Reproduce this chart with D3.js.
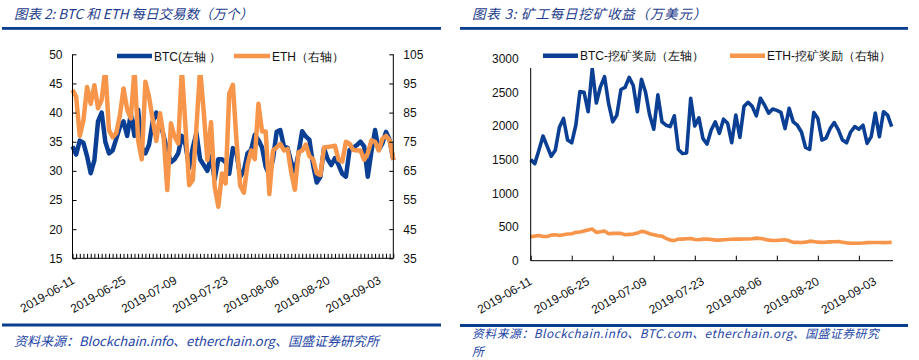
<!DOCTYPE html>
<html><head><meta charset="utf-8">
<script src="https://cdn.jsdelivr.net/npm/d3@7"></script>
<style>body{margin:0;background:#fff}svg{display:block}</style>
</head><body><svg id="c" width="919" height="360"></svg>
<script>
// ---------- DATA ----------
const startDay = "2019-06-11", endDay = "2019-09-07";
const labelDates = ["2019-06-11","2019-06-25","2019-07-09","2019-07-23","2019-08-06","2019-08-20","2019-09-03"];
const yTicksTxL = [15,20,25,30,35,40,45,50];
const yTicksTxR = [35,45,55,65,75,85,95,105];
const yTicksReward = [0,500,1000,1500,2000,2500,3000];

// BTC daily transactions (万个, left axis)
const btcTx = [34.2,32.8,35.2,34.8,32.5,29.6,31.8,38.5,40.0,35.0,
 33.0,33.5,35.5,37.5,38.5,36.0,39.8,36.0,40.5,34.0,
 33.0,34.5,38.5,40.0,38.5,36.0,33.5,31.5,32.0,33.0,
 36.0,34.5,30.5,34.0,36.5,32.0,31.0,30.0,32.5,28.5,
 32.0,32.0,31.5,29.5,33.9,33.0,29.0,30.0,33.0,33.6,
 36.2,35.3,34.0,30.7,29.3,32.0,36.7,37.0,34.2,33.9,
 31.5,29.9,33.0,36.8,35.9,35.3,31.0,28.0,29.0,33.9,
 32.0,31.0,32.2,31.0,29.5,29.0,33.6,34.0,34.4,35.0,
 34.2,29.0,33.3,37.0,33.6,34.7,36.7,35.3,31.9];
// ETH daily transactions (万个, right axis)
const ethTx = [92.8,90.4,77,82.4,93.8,88,94.4,86.5,89.4,100,
 79,76.5,78,84,93.3,86,83,100,75.6,69,
 95.6,90.4,82.6,75.3,84.8,76.8,58.4,81.3,76.8,74.4,
 100,80.1,60.1,61.9,80,100,85.3,68.7,81.7,59.6,
 52.7,64.1,60.7,91.6,94.5,75,60,57.5,67,72,
 69,88,78.5,78.5,57,72,73,74.3,72,72.5,
 64.5,58.5,71.4,72,74,70,69,64.2,63.6,73,
 73.2,73.4,73.6,68.8,68.2,75,74.3,72.2,72,72,
 68.8,71,75.5,75,72,76,77,75.5,68.8];
// BTC mining reward (万美元)
const btcReward = [1500,1440,1640,1850,1700,1550,1640,1980,2110,1790,
 1750,2010,2510,2500,2210,2850,2340,2580,2730,2330,
 2060,2160,2540,2570,2720,2600,2210,2690,2500,2160,
 1950,2460,2060,2010,1990,2150,1650,1590,1600,2410,
 2000,2120,1810,1730,1940,2060,1890,2100,2040,1750,
 2160,1830,2290,2350,2290,2150,2410,2310,2190,2250,
 2230,2200,1960,2260,2060,2010,1910,1680,1650,2200,
 2110,1790,1820,1960,2050,1940,1790,1750,1910,1990,
 1950,2010,1740,1840,2190,1840,2210,2160,1990];
// ETH mining reward (万美元)
const ethReward = [355,365,375,360,360,380,385,375,385,395,
 400,420,425,440,455,470,420,430,440,400,
 405,405,405,385,390,395,410,435,425,400,
 385,370,365,330,305,300,320,320,325,330,
 315,310,320,320,315,305,305,310,315,318,
 320,320,322,322,325,335,330,320,305,300,
 300,305,310,295,272,272,270,275,290,285,
 275,272,275,280,282,285,275,265,258,258,
 260,262,268,270,270,270,268,270,272];

// ---------- STYLE ----------
const BLUE = "#0b3f94", ORANGE = "#f7964a", BAR = "#0a3f8f";
const TFONT = "'Noto Sans CJK SC', 'DejaVu Sans', sans-serif";
const NFONT = "'Liberation Sans', Arial, sans-serif";

const parse = d3.timeParse("%Y-%m-%d");
const dates = d3.timeDay.range(parse(startDay), d3.timeDay.offset(parse(endDay), 1));
const svg = d3.select("#c");

// headers / footers
function header(x0, w, title, barY, ls) {
  svg.append("text").attr("x", x0 + 12).attr("y", 19).attr("font-family", TFONT)
    .attr("font-size", 13.5).attr("letter-spacing", ls).attr("font-style", "italic").attr("fill", "#1d3c8c").text(title);
  svg.append("rect").attr("x", x0).attr("y", 27).attr("width", w).attr("height", 2.8).attr("fill", BAR);
  svg.append("rect").attr("x", x0).attr("y", barY).attr("width", w).attr("height", 3).attr("fill", BAR);
}
header(2, 439, "图表 2:  BTC 和 ETH 每日交易数（万个）", 323.5, 0);
header(460, 448, "图表 3:  矿工每日挖矿收益（万美元）", 324, 0.8);

svg.append("text").attr("x", 14).attr("y", 346).attr("font-family", TFONT).attr("font-size", 13)
  .attr("font-style", "italic").attr("fill", "#2445a6").text("资料来源：Blockchain.info、etherchain.org、国盛证券研究所");
svg.append("text").attr("x", 472).attr("y", 338).attr("font-family", TFONT).attr("font-size", 11.8)
  .attr("letter-spacing", 0.55)
  .attr("font-style", "italic").attr("fill", "#2445a6").text("资料来源：Blockchain.info、BTC.com、etherchain.org、国盛证券研究");
svg.append("text").attr("x", 472).attr("y", 355.5).attr("font-family", TFONT).attr("font-size", 11.8)
  .attr("font-style", "italic").attr("fill", "#2445a6").text("所");

function dateLabels(g, x, dx, y0) {
  labelDates.forEach(s => {
    const px = x(parse(s));
    g.append("text").attr("transform", `translate(${px + dx},${y0}) rotate(-30)`)
      .attr("text-anchor", "end").attr("dy", "0.35em").attr("font-family", NFONT)
      .attr("font-size", 12).attr("fill", "#111").text(s);
  });
}

// ---------- LEFT CHART ----------
{
  const L = 72.5, R = 393.3, T = 54.3, B = 258.3;
  const x = d3.scaleTime().domain([dates[0], dates[dates.length - 1]]).range([L, R]);
  const yl = d3.scaleLinear().domain([15, 50]).range([B, T]);
  const yr = d3.scaleLinear().domain([35, 105]).range([B, T]);
  const g = svg.append("g");

  const line = (ys) => d3.line().x((d, i) => x(dates[i])).y(d => ys(d));
  g.append("path").datum(btcTx).attr("d", line(yl)).attr("fill", "none")
    .attr("stroke", BLUE).attr("stroke-width", 4.5).attr("stroke-linejoin", "round");
  g.append("path").datum(ethTx).attr("d", line(yr)).attr("fill", "none")
    .attr("stroke", ORANGE).attr("stroke-width", 4.5).attr("stroke-linejoin", "round");

  // legend (white background covers the plot top)
  g.append("rect").attr("x", 98).attr("y", 40).attr("width", 250).attr("height", 35).attr("fill", "#fff");
  g.append("line").attr("x1", 117).attr("x2", 152).attr("y1", 56).attr("y2", 56).attr("stroke", BLUE).attr("stroke-width", 4.5);
  g.append("text").attr("x", 154).attr("y", 60.5).attr("font-family", NFONT).attr("font-size", 12).attr("fill", "#111")
    .text("BTC(左轴 ）");
  g.append("line").attr("x1", 234).attr("x2", 270).attr("y1", 56).attr("y2", 56).attr("stroke", ORANGE).attr("stroke-width", 4.5);
  g.append("text").attr("x", 272).attr("y", 60.5).attr("font-family", NFONT).attr("font-size", 12).attr("fill", "#111")
    .text("ETH（右轴）");

  // axes
  const ax = d3.axisLeft(yl).tickValues(yTicksTxL).tickSize(-4).tickPadding(10);
  const ga = g.append("g").attr("transform", `translate(${L},0)`).call(ax);
  const ar = d3.axisRight(yr).tickValues(yTicksTxR).tickSize(-4).tickPadding(10);
  const gr = g.append("g").attr("transform", `translate(${R},0)`).call(ar);
  const ab = d3.axisBottom(x).tickValues(dates).tickSize(-4.5).tickFormat("");
  const gb = g.append("g").attr("transform", `translate(0,${B})`).call(ab);
  [ga, gr, gb].forEach(a => {
    a.selectAll("path,line").attr("stroke", "#000").attr("stroke-width", 1);
    a.selectAll("path").attr("d", null);
    a.selectAll("text").attr("font-family", NFONT).attr("font-size", 12).attr("fill", "#111");
  });
  g.append("line").attr("x1", L).attr("x2", L).attr("y1", T).attr("y2", B).attr("stroke", "#000");
  g.append("line").attr("x1", R).attr("x2", R).attr("y1", T).attr("y2", B).attr("stroke", "#000");
  g.append("line").attr("x1", L).attr("x2", R).attr("y1", B).attr("y2", B).attr("stroke", "#000");
  dateLabels(g, x, 1, 279);
}

// ---------- RIGHT CHART ----------
{
  const L = 530.7, R = 891.7, T = 58.5, B = 260.7;
  const x = d3.scaleTime().domain([dates[0], dates[dates.length - 1]]).range([L, R]);
  const y = d3.scaleLinear().domain([0, 3000]).range([B, T]);
  const g = svg.append("g");
  const line = d3.line().x((d, i) => x(dates[i])).y(d => y(d));
  g.append("path").datum(btcReward).attr("d", line).attr("fill", "none")
    .attr("stroke", BLUE).attr("stroke-width", 3.6).attr("stroke-linejoin", "round");
  g.append("path").datum(ethReward).attr("d", line).attr("fill", "none")
    .attr("stroke", ORANGE).attr("stroke-width", 3.6).attr("stroke-linejoin", "round");

  g.append("rect").attr("x", 525).attr("y", 42).attr("width", 375).attr("height", 26).attr("fill", "#fff");
  g.append("line").attr("x1", 543).attr("x2", 578).attr("y1", 55.7).attr("y2", 55.7).attr("stroke", BLUE).attr("stroke-width", 4.5);
  g.append("text").attr("x", 580).attr("y", 60).attr("font-family", NFONT).attr("font-size", 12).attr("fill", "#111")
    .text("BTC-挖矿奖励（左轴）");
  g.append("line").attr("x1", 730).attr("x2", 765).attr("y1", 55.7).attr("y2", 55.7).attr("stroke", ORANGE).attr("stroke-width", 4.5);
  g.append("text").attr("x", 767).attr("y", 60).attr("font-family", NFONT).attr("font-size", 12).attr("fill", "#111")
    .text("ETH-挖矿奖励（右轴）");

  const ay = d3.axisLeft(y).tickValues(yTicksReward).tickFormat(d3.format("d")).tickSize(0).tickPadding(12);
  const ga = g.append("g").attr("transform", `translate(${L},0)`).call(ay);
  const ab = d3.axisBottom(x).tickValues(dates.filter((d, i) => i % 10 === 0)).tickSize(-5).tickFormat("");
  const gb = g.append("g").attr("transform", `translate(0,${B})`).call(ab);
  [ga, gb].forEach(a => {
    a.selectAll("path").attr("d", null);
    a.selectAll("line").attr("stroke", "#000");
    a.selectAll("text").attr("font-family", NFONT).attr("font-size", 12).attr("fill", "#111");
  });
  g.append("line").attr("x1", L).attr("x2", L).attr("y1", 68).attr("y2", B).attr("stroke", "#000");
  g.append("line").attr("x1", L).attr("x2", 893).attr("y1", B).attr("y2", B).attr("stroke", "#000");
  dateLabels(g, x, 0, 280);
}
</script></body></html>
